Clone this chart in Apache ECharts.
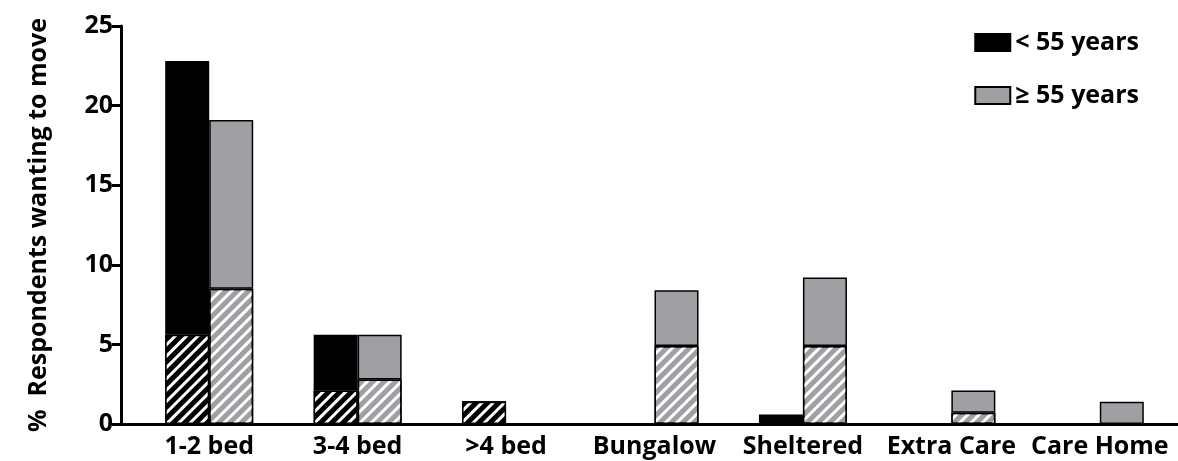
<!DOCTYPE html>
<html>
<head>
<meta charset="utf-8">
<script src="https://cdn.jsdelivr.net/npm/echarts@6/dist/echarts.min.js"></script>
<style>
html,body{margin:0;padding:0;background:#fff;}
#chart{width:1178px;height:461px;}
</style>
</head>
<body>
<div id="chart"></div>
<script>
const categories = ['1-2 bed', '3-4 bed', '>4 bed', 'Bungalow', 'Sheltered', 'Extra Care', 'Care Home'];
const under55Total   = [22.8, 5.6, 1.4, 0, 0.6, 0, 0];
const under55Hatched = [5.6, 2.1, 1.4, 0, 0, 0, 0];
const over55Total    = [19.1, 5.6, 0, 8.4, 9.2, 2.1, 1.4];
const over55Hatched  = [8.5, 2.8, 0, 4.9, 4.9, 0.7, 0];
const yTicks = [0, 5, 10, 15, 20, 25];

const under55Solid = under55Total.map((v, i) => +(v - under55Hatched[i]).toFixed(2));
const over55Solid = over55Total.map((v, i) => +(v - over55Hatched[i]).toFixed(2));

const FONT = 'Open Sans';
const BLACK = '#000000';
const GREY = '#A0A0A4';
const hatch = {
  symbol: 'rect',
  symbolSize: 1,
  dashArrayX: [1, 0],
  dashArrayY: [2.5, 5],
  rotation: -Math.PI / 4,
  color: '#ffffff'
};
const labelFont = {fontFamily: FONT, fontWeight: 'bold', fontSize: 25, color: '#000'};

const chart = echarts.init(document.getElementById('chart'), null, {renderer: 'canvas'});
chart.setOption({
  animation: false,
  backgroundColor: '#ffffff',
  textStyle: {fontFamily: FONT},
  grid: [
    {left: 135, right: 4, top: 26, bottom: 37},
    {left: 121, right: 0, top: 26, bottom: 37}
  ],
  legend: {
    orient: 'vertical',
    right: 34,
    top: 25,
    icon: 'rect',
    itemWidth: 35,
    itemHeight: 17,
    itemGap: 28,
    data: ['< 55 years', '≥ 55 years'],
    textStyle: labelFont,
    selectedMode: false
  },
  xAxis: [
    {
      type: 'category', gridIndex: 0, data: categories,
      axisLine: {show: false}, axisTick: {show: false},
      axisLabel: Object.assign({margin: 10, interval: 0}, labelFont)
    },
    {
      type: 'value', gridIndex: 1, min: 0, max: 1,
      axisLine: {show: true, lineStyle: {color: '#000', width: 3}},
      axisTick: {show: false}, axisLabel: {show: false}, splitLine: {show: false}
    }
  ],
  yAxis: [
    {
      type: 'value', gridIndex: 0, min: 0, max: 25, interval: 5,
      show: false, splitLine: {show: false}
    },
    {
      type: 'value', gridIndex: 1, min: yTicks[0], max: yTicks[yTicks.length - 1], interval: 5,
      name: '%  Respondents wanting to move',
      nameLocation: 'middle', nameGap: 70,
      nameTextStyle: labelFont,
      axisLine: {show: true, lineStyle: {color: '#000', width: 3}},
      axisTick: {show: true, length: 9, lineStyle: {color: '#000', width: 3}},
      axisLabel: Object.assign({margin: 8}, labelFont),
      splitLine: {show: false}
    }
  ],
  series: [
    {
      name: '< 55 years hatched', type: 'bar', stack: 'u55', xAxisIndex: 0, yAxisIndex: 0,
      barWidth: 44, barGap: '0%', data: under55Hatched,
      itemStyle: {color: BLACK, borderColor: '#000', borderWidth: 1.5, decal: hatch}
    },
    {
      name: '< 55 years', type: 'bar', stack: 'u55', xAxisIndex: 0, yAxisIndex: 0,
      barWidth: 44, barGap: '0%', data: under55Solid,
      itemStyle: {color: BLACK, borderColor: '#000', borderWidth: 1.5}
    },
    {
      name: '≥ 55 years hatched', type: 'bar', stack: 'o55', xAxisIndex: 0, yAxisIndex: 0,
      barWidth: 44, barGap: '0%', data: over55Hatched,
      itemStyle: {color: GREY, borderColor: '#000', borderWidth: 1.5, decal: hatch}
    },
    {
      name: '≥ 55 years', type: 'bar', stack: 'o55', xAxisIndex: 0, yAxisIndex: 0,
      barWidth: 44, barGap: '0%', data: over55Solid,
      itemStyle: {color: GREY, borderColor: '#000', borderWidth: 1.5}
    }
  ]
});
</script>
</body>
</html>
